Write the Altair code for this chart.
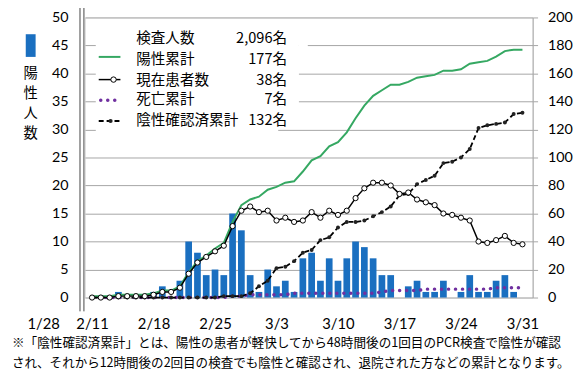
import json
import altair as alt
import pandas as pd

# ---- data (index 0 = 2/11 ... 49 = 3/31) ----
day_index = list(range(50))
tick_values = [0, 7, 14, 21, 28, 35, 42, 49]
tick_labels = ["2/11", "2/18", "2/25", "3/3", "3/10", "3/17", "3/24", "3/31"]
early_label = "1/28"
early_pos = [-5.5]

daily_positive = [0, 0, 0, 1, 0, 0, 0, 1, 2, 0, 3, 10, 8, 4, 5, 4, 15, 12, 4,
                  1, 5, 2, 3, 1, 7, 8, 3, 7, 3, 7, 10, 9, 7, 4, 4, 0, 2, 3, 1, 1,
                  3, 0, 1, 4, 1, 1, 3, 4, 1, 0]
cumulative = [1, 1, 1, 2, 2, 2, 2, 3, 5, 5, 8, 18, 26, 30, 35, 39, 54, 66, 70,
              72, 77, 79, 82, 83, 90, 98, 101, 108, 111, 118, 128, 137, 144, 148,
              152, 152, 154, 157, 158, 159, 162, 162, 163, 167, 168, 169, 172,
              176, 177, 177]
patients = [0, 0, 0, 1, 1, 1, 1, 2, 4, 4, 7, 17, 25, 29, 33, 37, 51, 62, 65,
            61, 62, 55, 57, 54, 55, 61, 57, 62, 59, 62, 71, 78, 82, 82, 80, 74,
            75, 70, 68, 66, 60, 59, 57, 55, 40, 39, 41, 44, 39, 38]
deaths = [0, 0, 0, 0, 0, 0, 0, 0, 0, 0, 0, 0, 0, 0, 0, 0, 1, 1, 2,
          2, 2, 2, 2, 3, 3, 3, 3, 3, 3, 3, 3, 3, 3, 4, 5, 5, 5, 5, 6, 6,
          6, 6, 6, 6, 6, 6, 7, 7, 7, 7]
negative = [0, 0, 0, 0, 0, 0, 0, 0, 0, 0, 0, 0, 0, 0, 0, 1, 1, 1, 3,
            8, 12, 21, 22, 26, 32, 34, 41, 43, 50, 54, 54, 55, 58, 61, 65, 73,
            74, 81, 84, 87, 96, 97, 100, 106, 121, 123, 124, 125, 131, 132]

legend_names = ["検査人数", "陽性累計", "現在患者数", "死亡累計", "陰性確認済累計"]
legend_values = ["2,096名", "177名", "38名", "7名", "132名"]
left_title_chars = ["陽", "性", "人", "数"]
note_lines = [
    "※「陰性確認済累計」とは、陽性の患者が軽快してから48時間後の1回目のPCR検査で陰性が確認",
    "され、それから12時間後の2回目の検査でも陰性と確認され、退院された方などの累計となります。",
]

# ---- styles ----
BLUE = "#1a6fc0"
GREEN = "#35a862"
PURPLE = "#7030a0"
GRID = "#a6a6a6"
JP = "Noto Sans CJK JP"
NUM = "Lato"

W, H = 454, 284
xscale = alt.Scale(domain=[-0.25, 49.6], nice=False, zero=False)
x_axis = alt.Axis(values=tick_values,
                  labelExpr=json.dumps(tick_labels) + "[round(datum.value/7)]",
                  title=None, grid=False, ticks=False, domain=False,
                  labelFont=NUM, labelFontSize=15, labelColor="black",
                  labelPadding=19)
X = alt.X("i:Q", scale=xscale, axis=x_axis)

left_axis = alt.Axis(values=list(range(0, 51, 5)), title=None, grid=True,
                     gridColor=GRID, gridWidth=1, domain=False, ticks=False,
                     labelFont=NUM, labelFontSize=14.5, labelColor="black",
                     labelPadding=17)
right_axis = alt.Axis(values=list(range(0, 201, 20)), title=None, grid=False,
                      orient="right", domain=True, domainColor=GRID, ticks=True,
                      tickColor=GRID, tickSize=5, labelFont=NUM, labelFontSize=14.5,
                      labelColor="black", labelPadding=10)
yl = alt.Scale(domain=[0, 50], nice=False)
yr = alt.Scale(domain=[0, 200], nice=False)

bars_df = pd.DataFrame({"i": day_index, "v": daily_positive})
bars = alt.Chart(bars_df).mark_bar(size=6.8, color=BLUE).encode(
    x=X, y=alt.Y("v:Q", scale=yl, axis=left_axis))

one = pd.DataFrame({"k": [0]})

def rule(x1, x2, y, **kw):
    return alt.Chart(one).mark_rule(**kw).encode(
        x=alt.value(x1), x2=alt.value(x2), y=alt.value(y))

def rect(x1, x2, y1, y2, color):
    return alt.Chart(one).mark_rect(color=color).encode(
        x=alt.value(x1), x2=alt.value(x2), y=alt.value(y1), y2=alt.value(y2))

def text(t, x, y, size, align="left", font=JP):
    return alt.Chart(pd.DataFrame({"t": [t]})).mark_text(
        align=align, baseline="middle", fontSize=size, font=font,
        color="black").encode(x=alt.value(x), y=alt.value(y), text="t:N")

# white legend background (covers grid)
deco = [rect(11, 196, 7, 121, "white"), rect(196, 217, 7, 100, "white"),
        rect(217, 226, 15, 35, "white")]

# axis break lines
deco += [rule(-5, -5, -15, strokeWidth=1, color="#444").encode(y2=alt.value(298)),
         rule(-1, -1, -15, strokeWidth=1, color="#444").encode(y2=alt.value(298))]

row_y = [22, 43, 64, 84, 105]
leg = []
for name, val, y in zip(legend_names, legend_values, row_y):
    leg.append(text(name, 52, y, 14.8))
    leg.append(text(val, 205, y, 14.8, align="right"))
leg.append(rule(14, 36, row_y[1] - 3, color=GREEN, strokeWidth=2))
leg.append(rule(14, 36, row_y[2] - 1, color="black", strokeWidth=1.5))
leg.append(alt.Chart(one).mark_point(filled=True, fill="white", stroke="black",
                                     strokeWidth=1, size=30, opacity=1).encode(
    x=alt.value(29), y=alt.value(row_y[2] - 1)))
leg.append(rule(16, 32, row_y[3], color=PURPLE, strokeWidth=3.5,
                strokeDash=[0.1, 7], strokeCap="round"))
leg.append(rule(14, 36, row_y[4], color="black", strokeWidth=1.8, strokeDash=[5, 3]))
leg.append(alt.Chart(one).mark_circle(size=18, color="#222", opacity=1).encode(
    x=alt.value(26), y=alt.value(row_y[4])))

# left title: blue box + vertical text
ttl = [rect(-60, -50, 17, 40, BLUE)]
for ch, y in zip(left_title_chars, [57, 78, 98, 118]):
    ttl.append(text(ch, -55, y, 14.5, align="center"))

# early date label beyond the break
early = alt.Chart(pd.DataFrame({"i": early_pos, "t": [early_label]})).mark_text(
    fontSize=15, font=NUM, baseline="middle", color="black").encode(
    x=alt.X("i:Q", scale=xscale, axis=x_axis), y=alt.value(311), text="t:N")

notes = [text(note_lines[0], -74, 330, 12.8),
         text(note_lines[1], -74, 350, 12.7)]

left_layer = alt.layer(bars, *deco, *leg, *ttl, early, *notes)

def series(vals):
    return pd.DataFrame({"i": day_index, "r": vals})

Yr = alt.Y("r:Q", scale=yr, axis=right_axis)
dead_line = alt.Chart(series(deaths)).mark_line(
    color=PURPLE, strokeWidth=3.5, strokeDash=[0.1, 7], strokeCap="round").encode(x=X, y=Yr)
cum_line = alt.Chart(series(cumulative)).mark_line(
    color=GREEN, strokeWidth=2).encode(x=X, y=Yr)
neg_line = alt.Chart(series(negative)).mark_line(
    color="black", strokeWidth=1.8, strokeDash=[5, 3]).encode(x=X, y=Yr)
neg_pts = alt.Chart(series(negative)).mark_circle(
    size=16, color="#222", opacity=1).encode(x=X, y=Yr)
pat_line = alt.Chart(series(patients)).mark_line(
    color="black", strokeWidth=1.5).encode(x=X, y=Yr)
pat_pts = alt.Chart(series(patients)).mark_point(
    filled=True, fill="white", stroke="black", strokeWidth=1, size=28,
    opacity=1).encode(x=X, y=Yr)

right_layer = alt.layer(dead_line, cum_line, neg_line, neg_pts, pat_line, pat_pts)

chart = alt.layer(left_layer, right_layer).resolve_scale(y="independent").properties(
    width=W, height=H,
    autosize=alt.AutoSizeParams(type="none"),
    padding={"left": 78, "top": 7, "right": 47, "bottom": 79},
).configure_view(stroke=None).configure(background="white")

chart.save("out.html", embed_options={"renderer": "svg", "actions": False})
